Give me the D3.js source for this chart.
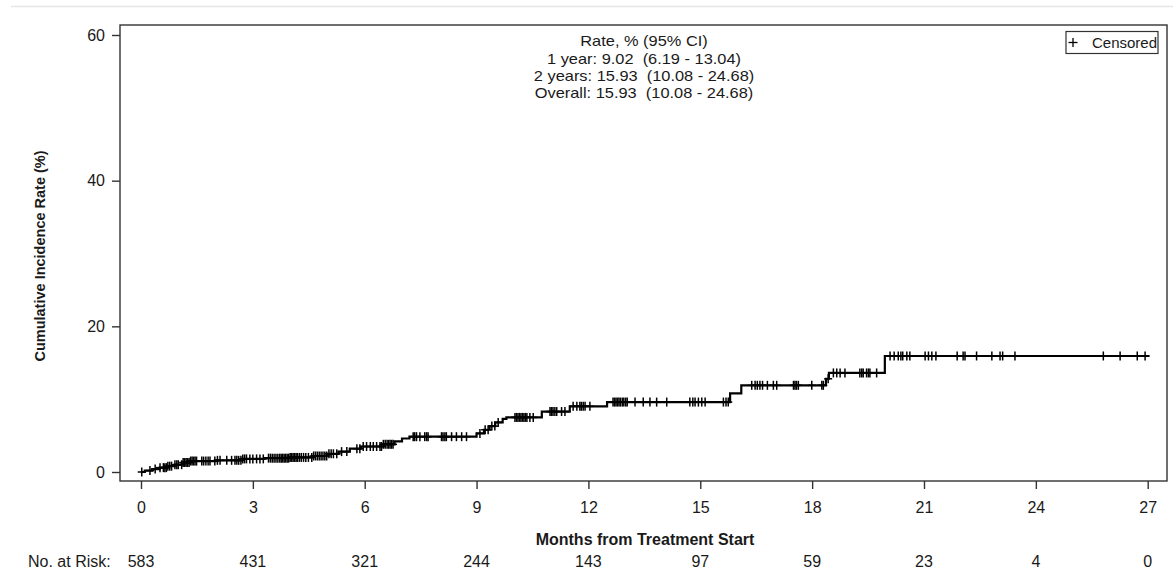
<!DOCTYPE html>
<html>
<head>
<meta charset="utf-8">
<script src="https://cdn.jsdelivr.net/npm/d3@7"></script>
<style>
  html, body { margin: 0; padding: 0; background: #fff; }
  svg { display: block; font-family: "Liberation Sans", Arial, sans-serif; }
  text { white-space: pre; }
</style>
</head>
<body>
<svg id="chart" width="1173" height="580"></svg>
<script>
// event times (months) and cumulative incidence (%) after each step
var eventMonths = [0.1, 0.3, 0.5, 0.7, 0.9, 1.1, 1.3, 2.0, 2.7, 3.3, 4.0, 4.6, 5.0, 5.3, 5.6, 5.9, 6.5, 6.8, 7.0, 7.2,
  9.0, 9.2, 9.35, 9.5, 9.7, 9.8, 10.75, 11.5, 12.5, 15.8, 16.1, 18.37, 18.45, 19.95];
var cumIncidence = [0.2, 0.4, 0.6, 0.8, 1.0, 1.3, 1.5, 1.6, 1.8, 1.9, 2.0, 2.2, 2.5, 2.8, 3.2, 3.5, 3.8, 4.2, 4.6, 4.85,
  5.3, 5.8, 6.3, 6.8, 7.3, 7.5, 8.3, 9.02, 9.6, 10.8, 11.9, 12.8, 13.6, 15.93];
var followUpEnd = 27.05;

// censored observation times (months)
var censorEarly = [0.02, 0.24, 0.38, 0.51, 0.60, 0.64, 0.68, 0.72, 0.77, 0.82, 0.91, 0.96, 1.00, 1.09, 1.13, 1.17, 1.21,
  1.25, 1.29, 1.33, 1.37, 1.41, 1.45, 1.49, 1.63, 1.68, 1.74, 1.80, 1.85, 1.98, 2.05, 2.12, 2.30, 2.43, 2.52, 2.57,
  2.62, 2.68, 2.73, 2.78, 2.83, 2.92, 3.00, 3.10, 3.19, 3.28, 3.42, 3.47, 3.52, 3.57, 3.62, 3.67, 3.72, 3.76, 3.80,
  3.84, 3.88, 3.92, 3.96, 4.00, 4.04, 4.08, 4.12, 4.16, 4.20, 4.25, 4.30, 4.36, 4.42, 4.49, 4.58, 4.63, 4.68, 4.73,
  4.78, 4.83, 4.88, 4.93, 4.98, 5.04, 5.10, 5.16, 5.25, 5.38, 5.52, 5.79, 5.87, 5.96, 6.05, 6.15, 6.23, 6.32, 6.41,
  6.45, 6.50, 6.55, 6.60, 6.64, 6.68, 6.72, 6.76];
var censorMid = [7.30, 7.34, 7.39, 7.48, 7.61, 7.66, 7.70, 8.06, 8.10, 8.15, 8.19, 8.33, 8.46, 8.60, 8.73, 9.09, 9.23,
  9.31, 9.41, 9.49, 9.58, 10.03, 10.07, 10.11, 10.15, 10.19, 10.23, 10.27, 10.31, 10.35, 10.43, 10.52, 10.97, 11.01,
  11.05, 11.10, 11.15, 11.28, 11.37, 11.59, 11.69, 11.77, 11.81, 11.86, 11.91, 12.04, 12.66, 12.70, 12.74, 12.78,
  12.82, 12.86, 12.91, 12.95, 13.00, 13.04, 13.25, 13.47, 13.65, 13.83, 14.10, 14.72, 14.80, 14.86, 14.95, 15.04,
  15.13, 15.62, 15.69, 15.75];
var censorLate = [16.38, 16.47, 16.53, 16.60, 16.67, 16.80, 16.96, 17.05, 17.50, 17.54, 17.58, 17.63, 17.99, 18.26,
  18.30, 18.43, 18.57, 18.66, 18.75, 18.88, 19.28, 19.33, 19.37, 19.46, 19.51, 19.55, 19.73, 20.09, 20.20, 20.31,
  20.38, 20.43, 20.54, 20.62, 21.03, 21.12, 21.21, 21.32, 21.89, 22.05, 22.10, 22.41, 22.82, 23.04, 23.11, 23.44,
  25.81, 26.26, 26.72, 26.93];

var xTicks = [0, 3, 6, 9, 12, 15, 18, 21, 24, 27];
var yTicks = [0, 20, 40, 60];
var atRisk = [583, 431, 321, 244, 143, 97, 59, 23, 4, 0];
var rateLines = ["Rate, % (95% CI)", "1 year: 9.02  (6.19 - 13.04)", "2 years: 15.93  (10.08 - 24.68)",
  "Overall: 15.93  (10.08 - 24.68)"];

var svg = d3.select("#chart");
var frame = { left: 120, right: 1167, top: 25, bottom: 481 };
var x = d3.scaleLinear().domain([0, 27]).range([141, 1147.7]);
var y = d3.scaleLinear().domain([0, 60]).range([472, 35]);
var ink = "#1a1a1a";

// thin grey rule at the top
svg.append("line").attr("x1", 11).attr("x2", 1173).attr("y1", 6.5).attr("y2", 6.5)
  .attr("stroke", "#e6e6e6").attr("stroke-width", 1.5);

// axes
var xAxis = svg.append("g").attr("transform", "translate(0," + frame.bottom + ")")
  .call(d3.axisBottom(x).tickValues(xTicks).tickSize(8).tickSizeOuter(0));
var yAxis = svg.append("g").attr("transform", "translate(" + frame.left + ",0)")
  .call(d3.axisLeft(y).tickValues(yTicks).tickSize(8).tickSizeOuter(0).tickPadding(7));
[xAxis, yAxis].forEach(function(g) {
  g.select(".domain").remove();
  g.selectAll(".tick line").attr("stroke", "#333").attr("stroke-width", 1.4);
  g.selectAll(".tick text").attr("fill", ink).style("font-size", "16px")
    .style("font-family", "'Liberation Sans', Arial, sans-serif");
});
xAxis.selectAll(".tick text").attr("dy", null).attr("y", 32);

// plot frame
svg.append("rect").attr("x", frame.left).attr("y", frame.top)
  .attr("width", frame.right - frame.left).attr("height", frame.bottom - frame.top)
  .attr("fill", "none").attr("stroke", "#333").attr("stroke-width", 1.4);

// step curve
var pts = [[0, 0]];
eventMonths.forEach(function(t, i) { pts.push([t, cumIncidence[i]]); });
pts.push([followUpEnd, cumIncidence[cumIncidence.length - 1]]);
svg.append("path").datum(pts)
  .attr("fill", "none").attr("stroke", "#000").attr("stroke-width", 2.2)
  .attr("d", d3.line().curve(d3.curveStepAfter)
    .x(function(d) { return x(d[0]); })
    .y(function(d) { return y(d[1]); }));

function valueAt(t) {
  var v = 0;
  eventMonths.forEach(function(e, i) { if (e <= t) v = cumIncidence[i]; });
  return v;
}

// censor marks
var censor = censorEarly.concat(censorMid, censorLate);
var marks = svg.append("g").attr("stroke", "#000").attr("stroke-width", 1.5);
censor.forEach(function(t) {
  var cx = x(t), cy = y(valueAt(t));
  marks.append("line").attr("x1", cx).attr("x2", cx).attr("y1", cy - 4.5).attr("y2", cy + 4.5);
  marks.append("line").attr("x1", cx - 4).attr("x2", cx + 4).attr("y1", cy).attr("y2", cy);
});

// rate annotation (text in the source is slightly wide, so stretch horizontally)
svg.append("g").attr("transform", "translate(644,0) scale(1.13,1)")
  .selectAll("text").data(rateLines).join("text")
  .attr("x", 0).attr("y", function(d, i) { return 46.5 + i * 17.2; })
  .attr("text-anchor", "middle").style("font-size", "14.5px").attr("fill", ink)
  .text(function(d) { return d; });

// legend
var leg = svg.append("g");
leg.append("rect").attr("x", 1066).attr("y", 31.5).attr("width", 92).attr("height", 22)
  .attr("fill", "#fff").attr("stroke", "#333").attr("stroke-width", 1.2);
leg.append("line").attr("x1", 1073).attr("x2", 1073).attr("y1", 38).attr("y2", 47).attr("stroke", "#000").attr("stroke-width", 1.3);
leg.append("line").attr("x1", 1068.5).attr("x2", 1077.5).attr("y1", 42.5).attr("y2", 42.5).attr("stroke", "#000").attr("stroke-width", 1.3);
leg.append("text").attr("x", 1092).attr("y", 48).style("font-size", "15px").attr("fill", ink).text("Censored");

// axis titles
svg.append("text").attr("x", 645).attr("y", 545).attr("text-anchor", "middle")
  .style("font-size", "16px").style("font-weight", "bold").attr("fill", ink)
  .text("Months from Treatment Start");
svg.append("text").attr("transform", "translate(45,256) rotate(-90)").attr("text-anchor", "middle")
  .style("font-size", "14.5px").style("font-weight", "bold").attr("fill", ink)
  .text("Cumulative Incidence Rate (%)");

// number at risk
svg.append("text").attr("x", 28).attr("y", 567).style("font-size", "16px").attr("fill", ink).text("No. at Risk:");
svg.append("g").selectAll("text").data(atRisk).join("text")
  .attr("x", function(d, i) { return x(xTicks[i]); }).attr("y", 567)
  .attr("text-anchor", "middle").style("font-size", "16px").attr("fill", ink)
  .text(function(d) { return d; });
</script>
</body>
</html>
